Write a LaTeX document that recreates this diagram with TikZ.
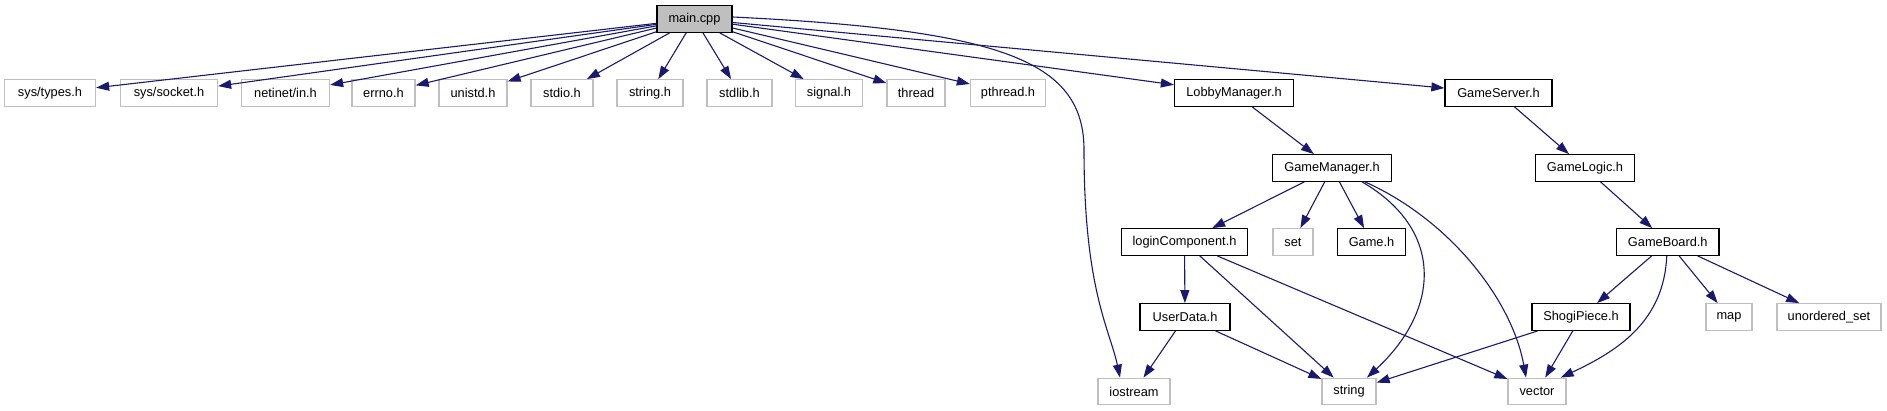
\documentclass[tikz,border=0pt]{standalone}
\usepackage{fontspec}
\setmainfont{Liberation Sans}
\usepackage{xcolor}
\usepackage{tikz}
\usetikzlibrary{arrows.meta}
\definecolor{edgeblue}{HTML}{191970}
\definecolor{sysgray}{HTML}{BFBFBF}
\definecolor{mainfill}{HTML}{BFBFBF}
\tikzset{
  incbox/.style={
    rectangle, draw=black, fill=white, line width=1.3pt,
    minimum width=#1, minimum height=26.5pt, inner sep=0pt,
    font=\fontsize{12.8}{14}\selectfont
  },
  incbox/.default=80pt,
  sysbox/.style={
    rectangle, draw=sysgray, fill=white, line width=1.3pt,
    minimum width=#1, minimum height=26.5pt, inner sep=0pt,
    font=\fontsize{12.8}{14}\selectfont
  },
  sysbox/.default=60pt,
  mainbox/.style={incbox=#1, fill=mainfill},
  incarrow/.style={
    -{Triangle[length=13pt, width=9pt]}, line width=1.1pt, color=edgeblue
  },
}

\begin{document}
\begin{tikzpicture}[x=1pt, y=-1pt]
  \useasboundingbox (0,0) rectangle (1887,411);
  % top file
  \node[mainbox=75pt] (mainfile) at (694.5,19) {main.cpp};
  % first rank
  \node[sysbox=91pt] (systypes) at (50,93) {sys/types.h};
  \node[sysbox=97pt] (syssocket) at (169,93) {sys/socket.h};
  \node[sysbox=88pt] (netinet) at (285.5,93) {netinet/in.h};
  \node[sysbox=63pt] (errnoh) at (383.5,93) {errno.h};
  \node[sysbox=68pt] (unistdh) at (473,93) {unistd.h};
  \node[sysbox=62pt] (stdioh) at (562,93) {stdio.h};
  \node[sysbox=66pt] (stringh) at (650,93) {string.h};
  \node[sysbox=65pt] (stdlibh) at (739.5,93) {stdlib.h};
  \node[sysbox=67pt] (signalh) at (829,93) {signal.h};
  \node[sysbox=58pt] (threadh) at (916,93) {thread};
  \node[sysbox=75pt] (pthreadh) at (1008,93) {pthread.h};
  \node[incbox=119pt] (lobbymgr) at (1234,93) {LobbyManager.h};
  \node[incbox=107pt] (gameserver) at (1498.5,93) {GameServer.h};
  % second rank
  \node[incbox=119pt] (gamemgr) at (1332,168) {GameManager.h};
  \node[incbox=99pt] (gamelogic) at (1585,168) {GameLogic.h};
  % third rank
  \node[incbox=126pt] (logincomp) at (1184.5,242) {loginComponent.h};
  \node[sysbox=40pt] (seth) at (1293,242) {set};
  \node[incbox=68pt] (gameh) at (1371.5,242) {Game.h};
  \node[incbox=102.5pt] (gameboard) at (1667.75,242) {GameBoard.h};
  % fourth rank
  \node[incbox=90pt] (userdata) at (1185,317) {UserData.h};
  \node[incbox=98pt] (shogipiece) at (1581,317) {ShogiPiece.h};
  \node[sysbox=46pt] (maph) at (1729,317) {map};
  \node[sysbox=104pt] (unorderedset) at (1829,317) {unordered\_set};
  % bottom rank
  \node[sysbox=72pt] (iostreamh) at (1134,391.5) {iostream};
  \node[sysbox=54pt] (stringstd) at (1349,391.5) {string};
  \node[sysbox=58pt] (vectorh) at (1537,391.5) {vector};

  % main.cpp includes
  \draw[incarrow] (mainfile) -- (systypes);
  \draw[incarrow] (mainfile) -- (syssocket);
  \draw[incarrow] (mainfile) -- (netinet);
  \draw[incarrow] (mainfile) -- (errnoh);
  \draw[incarrow] (mainfile) -- (unistdh);
  \draw[incarrow] (mainfile) -- (stdioh);
  \draw[incarrow] (mainfile) -- (stringh);
  \draw[incarrow] (mainfile) -- (stdlibh);
  \draw[incarrow] (mainfile) -- (signalh);
  \draw[incarrow] (mainfile) -- (threadh);
  \draw[incarrow] (mainfile) -- (pthreadh);
  \draw[incarrow] (mainfile) -- (lobbymgr);
  \draw[incarrow] (mainfile) -- (gameserver);
  \draw[incarrow] ([yshift=2pt]mainfile.east) .. controls (1000,30) and (1084,60) .. (1084,150)
    .. controls (1084,290) and (1110,330) .. ([xshift=-14pt]iostreamh.north);
  % lobby side
  \draw[incarrow] (lobbymgr) -- (gamemgr);
  \draw[incarrow] (gamemgr) -- (logincomp);
  \draw[incarrow] (gamemgr) -- (seth);
  \draw[incarrow] (gamemgr) -- (gameh);
  \draw[incarrow] ([xshift=30pt]gamemgr.south) .. controls (1445,230) and (1440,310) .. ([xshift=18pt]stringstd.north);
  \draw[incarrow] ([xshift=33pt]gamemgr.south) .. controls (1450,220) and (1512,300) .. ([xshift=-11pt]vectorh.north);
  \draw[incarrow] (logincomp) -- (userdata);
  \draw[incarrow] (logincomp) -- (stringstd);
  \draw[incarrow] (logincomp) -- (vectorh);
  \draw[incarrow] (userdata) -- (iostreamh);
  \draw[incarrow] (userdata) -- (stringstd);
  % server side
  \draw[incarrow] (gameserver) -- (gamelogic);
  \draw[incarrow] (gamelogic) -- (gameboard);
  \draw[incarrow] (gameboard) -- (shogipiece);
  \draw[incarrow] (gameboard) -- (maph);
  \draw[incarrow] (gameboard) -- (unorderedset);
  \draw[incarrow] ([xshift=-1pt]gameboard.south) .. controls (1664,320) and (1620,350) .. ([xshift=-6pt]vectorh.north east);
  \draw[incarrow] (shogipiece) -- (stringstd);
  \draw[incarrow] (shogipiece) -- (vectorh);
\end{tikzpicture}
\end{document}
